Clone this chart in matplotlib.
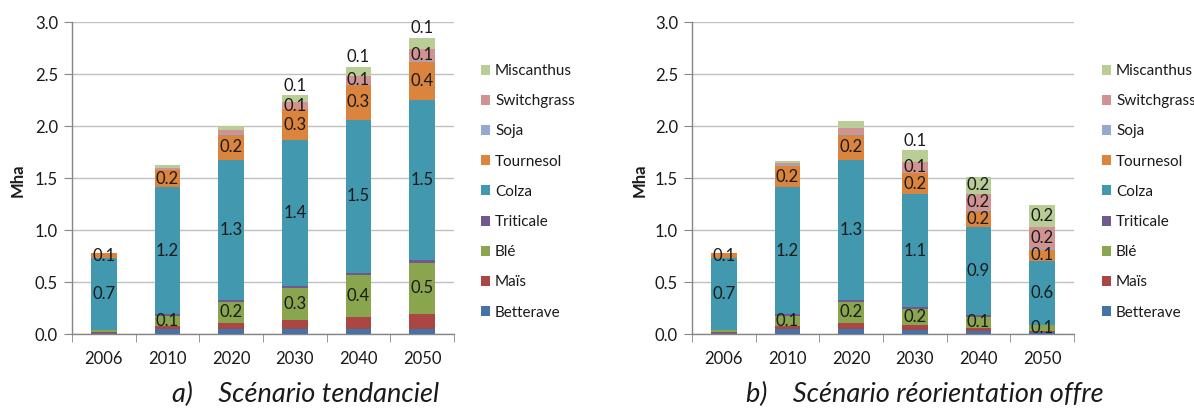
import matplotlib
matplotlib.use("Agg")
import matplotlib.pyplot as plt
from matplotlib.patches import Patch
import numpy as np

plt.rcParams['font.family'] = ['Lato', 'DejaVu Sans']

years = ["2006", "2010", "2020", "2030", "2040", "2050"]
series = ["Betterave", "Maïs", "Blé", "Triticale", "Colza", "Tournesol",
          "Soja", "Switchgrass", "Miscanthus"]
colors = ["#4572A7", "#AA4643", "#89A54E", "#71588F", "#4198AF", "#DB843D",
          "#93A9CF", "#D19392", "#B9CD96"]

# Scenario a) tendanciel (Mha)
a_betterave = [0.012, 0.048, 0.048, 0.048, 0.048, 0.048]
a_mais = [0.006, 0.032, 0.061, 0.093, 0.122, 0.148]
a_ble = [0.022, 0.10, 0.206, 0.30, 0.396, 0.49]
a_triticale = [0.004, 0.012, 0.016, 0.024, 0.026, 0.032]
a_colza = [0.686, 1.22, 1.343, 1.404, 1.472, 1.536]
a_tournesol = [0.052, 0.168, 0.245, 0.296, 0.335, 0.367]
a_soja = [0.0, 0.003, 0.003, 0.003, 0.003, 0.003]
a_switchgrass = [0.0, 0.016, 0.045, 0.061, 0.084, 0.116]
a_miscanthus = [0.0, 0.026, 0.036, 0.068, 0.084, 0.11]

# Scenario b) réorientation offre (Mha)
b_betterave = [0.012, 0.048, 0.048, 0.042, 0.032, 0.022]
b_mais = [0.006, 0.032, 0.061, 0.045, 0.032, 0.013]
b_ble = [0.022, 0.10, 0.206, 0.155, 0.106, 0.052]
b_triticale = [0.004, 0.012, 0.016, 0.016, 0.013, 0.006]
b_colza = [0.686, 1.22, 1.343, 1.09, 0.851, 0.612]
b_tournesol = [0.052, 0.21, 0.245, 0.203, 0.155, 0.11]
b_soja = [0.0, 0.003, 0.003, 0.003, 0.003, 0.003]
b_switchgrass = [0.0, 0.022, 0.058, 0.103, 0.161, 0.209]
b_miscanthus = [0.0, 0.023, 0.074, 0.113, 0.164, 0.213]

# Which segments carry a data label
a_labels = {"Blé": [0, 1, 1, 1, 1, 1], "Colza": [1] * 6, "Tournesol": [1] * 6,
            "Switchgrass": [0, 0, 0, 1, 1, 1], "Miscanthus": [0, 0, 0, 1, 1, 1]}
b_labels = {"Blé": [0, 1, 1, 1, 1, 1], "Colza": [1] * 6, "Tournesol": [1] * 6,
            "Switchgrass": [0, 0, 0, 1, 1, 1], "Miscanthus": [0, 0, 0, 1, 1, 1]}

scen_a = [a_betterave, a_mais, a_ble, a_triticale, a_colza, a_tournesol,
          a_soja, a_switchgrass, a_miscanthus]
scen_b = [b_betterave, b_mais, b_ble, b_triticale, b_colza, b_tournesol,
          b_soja, b_switchgrass, b_miscanthus]

titles = ["a)    Scénario tendanciel", "b)    Scénario réorientation offre"]

W, H = 1194, 412
fig = plt.figure(figsize=(W / 100, H / 100), dpi=100)

txt = "#1a1a1a"
axis_c = "#868686"
grid_c = "#C0C0C0"


def draw(ax_rect, data, labels, leg_x, title, title_x, mha_x):
    ax = fig.add_axes(ax_rect)
    x = np.arange(len(years))
    bottom = np.zeros(len(years))
    for name, vals, col in zip(series, data, colors):
        vals = np.array(vals)
        ax.bar(x, vals, 0.4, bottom=bottom, color=col, zorder=3, label=name)
        if name in labels:
            for i, (v, b, show) in enumerate(zip(vals, bottom, labels[name])):
                if not show:
                    continue
                if name == "Miscanthus" and v < 0.15:
                    ax.text(i, b + v + 0.015, f"{v:.1f}", ha="center", va="bottom",
                            fontsize=12, color=txt, zorder=5)
                else:
                    ax.text(i, b + v / 2, f"{v:.1f}", ha="center", va="center",
                            fontsize=12, color=txt, zorder=5)
        bottom = bottom + vals
    ax.set_xlim(-0.5, len(years) - 0.5)
    ax.set_ylim(0, 3.0)
    ax.set_yticks(np.arange(0, 3.01, 0.5))
    ax.set_yticklabels([f"{v:.1f}" for v in np.arange(0, 3.01, 0.5)])
    ax.set_xticks(x)
    ax.set_xticklabels(years)
    ax.set_xticks(np.arange(-0.5, len(years), 1.0), minor=True)
    ax.tick_params(axis="x", which="major", length=0, pad=12, labelsize=12, colors=txt)
    ax.tick_params(axis="x", which="minor", length=6, color=axis_c, direction="out")
    ax.tick_params(axis="y", length=6, color=axis_c, labelsize=12, labelcolor=txt, pad=4)
    ax.grid(axis="y", color=grid_c, lw=1.0, zorder=0)
    for s in ["top", "right"]:
        ax.spines[s].set_visible(False)
    for s in ["left", "bottom"]:
        ax.spines[s].set_color(axis_c)
        ax.spines[s].set_linewidth(1.0)
    handles = [Patch(facecolor=c, edgecolor="none") for c in colors][::-1]
    fig.legend(handles, series[::-1], loc="upper left",
               bbox_to_anchor=(leg_x, 1 - 64 / H), frameon=False,
               fontsize=11, handlelength=0.62, handleheight=0.62,
               handletextpad=0.3, labelspacing=1.06, borderaxespad=0,
               borderpad=0, labelcolor=txt)
    fig.text(mha_x, 1 - 180 / H, "Mha", rotation=90, ha="center", va="center",
             fontsize=12, fontweight="bold", color=txt)
    fig.text(title_x, 1 - 394 / H, title, ha="center", va="center",
             fontsize=19.5, style="italic", color=txt)


draw([72 / W, 1 - 334.3 / H, 382 / W, 312 / H], scen_a, a_labels,
     481 / W, titles[0], 306 / W, 18 / W)
draw([692 / W, 1 - 334.3 / H, 382 / W, 312 / H], scen_b, b_labels,
     1102 / W, titles[1], 925 / W, 640 / W)

fig.savefig("out.png", dpi=100, facecolor="white")
